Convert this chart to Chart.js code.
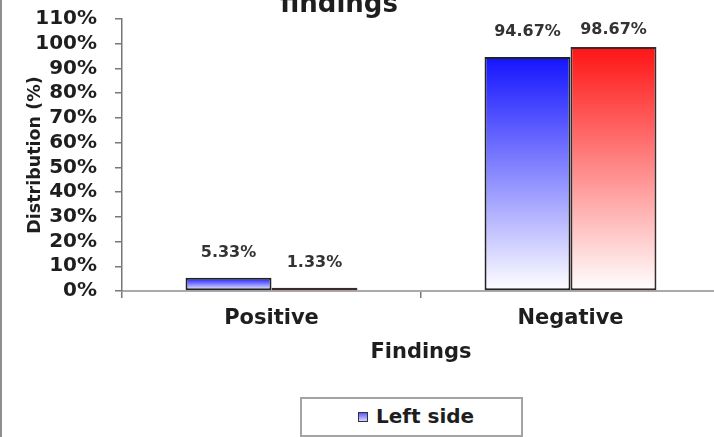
<!DOCTYPE html>
<html>
<head>
<meta charset="utf-8">
<title>Findings</title>
<script src="https://cdn.jsdelivr.net/npm/chart.js@4.4.1/dist/chart.umd.min.js"></script>
<style>
  html, body { margin: 0; padding: 0; background: #fff; }
  body { width: 714px; height: 437px; overflow: hidden; position: relative; }
  #chart { position: absolute; left: 0; top: 0; }
  .frame { position: absolute; left: 0; top: 0; width: 2px; height: 437px; background: #8f8f8f; }
  .legend {
    position: absolute; left: 300px; top: 397px; width: 219px; height: 36px;
    border: 2px solid #a3a3a3; background: #fff;
    font: bold 20px "DejaVu Sans", sans-serif; color: #1e1e1e;
  }
  .legend .swatch {
    position: absolute; left: 56px; top: 13px; width: 8px; height: 8px;
    border: 1.5px solid #333; background: linear-gradient(#5a5aff, #d8d8ff);
  }
  .legend .txt { position: absolute; left: 74px; top: 5px; line-height: 24px; }
</style>
</head>
<body>
<canvas id="chart" width="720" height="437"></canvas>
<div class="frame"></div>
<div class="legend"><span class="swatch"></span><span class="txt">Left side</span></div>

<script>
// --- data ---
const categories = ["Positive", "Negative"];
const leftSide = [5.33, 94.67];
const rightSide = [1.33, 98.67];
const seriesNames = ["Left side", "Right side"];
const topColors = ["#1414ff", "#ff1414"];
const yTicks = [0, 10, 20, 30, 40, 50, 60, 70, 80, 90, 100, 110];

Chart.defaults.font.family = "'DejaVu Sans', sans-serif";
Chart.defaults.font.weight = "bold";
Chart.defaults.color = "#1e1e1e";

// gradient per bar, top colour down to white at the base
function barGradient(topColor) {
  return (ctx) => {
    if (ctx.type !== "data") return topColor;
    const chart = ctx.chart;
    const y = chart.scales.y;
    if (!y) return topColor;
    const top = y.getPixelForValue(ctx.raw);
    const bottom = y.getPixelForValue(0);
    if (!isFinite(top) || !isFinite(bottom) || top === bottom) return topColor;
    const g = chart.ctx.createLinearGradient(0, top, 0, bottom);
    g.addColorStop(0, topColor);
    g.addColorStop(1, "#ffffff");
    return g;
  };
}

// value labels above each bar
const valueLabels = {
  id: "valueLabels",
  afterDatasetsDraw(chart) {
    const ctx = chart.ctx;
    ctx.save();
    ctx.font = "bold 16px 'DejaVu Sans'";
    ctx.fillStyle = "#333";
    ctx.textAlign = "center";
    ctx.textBaseline = "middle";
    chart.data.datasets.forEach((ds, i) => {
      chart.getDatasetMeta(i).data.forEach((bar, j) => {
        const y = Math.max(bar.y - 25, 30);
        ctx.fillText(ds.data[j].toFixed(2) + "%", bar.x, y);
      });
    });
    ctx.restore();
  },
};

// the chart title, cut off at the top edge like the original
const topTitle = {
  id: "topTitle",
  afterDraw(chart) {
    const ctx = chart.ctx;
    ctx.save();
    ctx.font = "bold 26px 'DejaVu Sans'";
    ctx.fillStyle = "#1e1e1e";
    ctx.textAlign = "center";
    ctx.textBaseline = "alphabetic";
    ctx.fillText("findings", 339, 12);
    ctx.restore();
  },
};

new Chart(document.getElementById("chart"), {
  type: "bar",
  data: {
    labels: categories,
    datasets: [
      {
        label: seriesNames[0],
        data: leftSide,
        backgroundColor: barGradient(topColors[0]),
        borderColor: "#222",
        borderWidth: 2,
        borderSkipped: false,
      },
      {
        label: seriesNames[1],
        data: rightSide,
        backgroundColor: barGradient(topColors[1]),
        borderColor: "#3a2a2a",
        borderWidth: 2,
        borderSkipped: false,
      },
    ],
  },
  options: {
    responsive: false,
    animation: false,
    layout: { padding: { left: 0, top: 19, right: 0, bottom: 0 } },
    datasets: { bar: { categoryPercentage: 0.575, barPercentage: 1 } },
    plugins: {
      legend: { display: false },
      tooltip: { enabled: false },
    },
    scales: {
      x: {
        afterFit: (scale) => { scale.height = 146; },
        grid: { drawOnChartArea: false, tickLength: 7, color: "#777", lineWidth: 1.5 },
        border: { color: "#aaa", width: 2 },
        ticks: { font: { size: 21 }, padding: 8, color: "#1e1e1e" },
        title: {
          display: true,
          text: "Findings",
          font: { size: 21 },
          padding: { top: 0, bottom: 72 },
          color: "#1e1e1e",
        },
      },
      y: {
        min: 0,
        max: 110,
        afterFit: (scale) => {
          scale.width = 122;
          scale.paddingTop = 0;
          scale.paddingBottom = 0;
        },
        afterBuildTicks: (scale) => {
          scale.ticks = yTicks.map((v) => ({ value: v }));
        },
        grid: { drawOnChartArea: false, tickLength: 7, color: "#777", lineWidth: 1.5 },
        border: { color: "#777", width: 1.5 },
        ticks: {
          autoSkip: false,
          font: { size: 20 },
          padding: 18,
          color: "#1e1e1e",
          callback: (v) => v + "%",
        },
        title: {
          display: true,
          text: "Distribution (%)",
          font: { size: 17.5 },
          padding: { top: 25, bottom: 0 },
          color: "#1e1e1e",
        },
      },
    },
  },
  plugins: [valueLabels, topTitle],
});
</script>
</body>
</html>
